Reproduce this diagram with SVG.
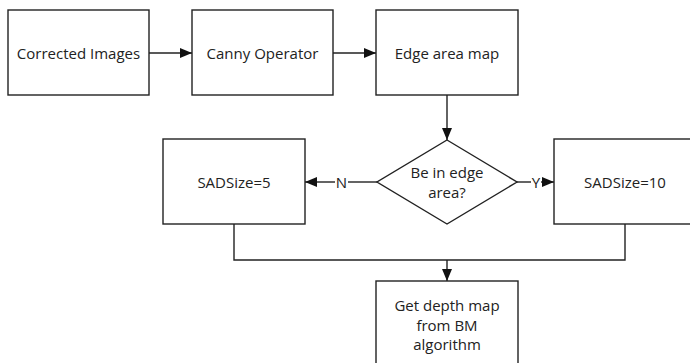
<svg xmlns="http://www.w3.org/2000/svg" width="690" height="363" viewBox="0 0 690 363">
<style>
.box{fill:#fff;stroke:#222;stroke-width:1.4}
.ln{fill:none;stroke:#222;stroke-width:1.4}
text{font-family:"Open Sans","Noto Sans","DejaVu Sans",sans-serif;font-size:15px;fill:#222;text-anchor:middle}
</style>
<defs>
<marker id="ah" markerWidth="12" markerHeight="10" refX="12" refY="5" orient="auto" markerUnits="userSpaceOnUse">
<path d="M0,0 L12,5 L0,10 Z" fill="#111"/>
</marker>
</defs>
<g id="connectors">
<line class="ln" x1="149" y1="53" x2="192" y2="53" marker-end="url(#ah)"/>
<line class="ln" x1="333" y1="53" x2="376" y2="53" marker-end="url(#ah)"/>
<line class="ln" x1="447" y1="95" x2="447" y2="140" marker-end="url(#ah)"/>
<line class="ln" x1="377" y1="182" x2="348" y2="182"/>
<line class="ln" x1="335" y1="182" x2="305" y2="182" marker-end="url(#ah)"/>
<text x="341.5" y="187.5">N</text>
<line class="ln" x1="517" y1="182" x2="531" y2="182"/>
<line class="ln" x1="541" y1="182" x2="554" y2="182" marker-end="url(#ah)"/>
<text x="536" y="187.5">Y</text>
<polyline class="ln" points="234,224 234,260 625,260 625,224"/>
<line class="ln" x1="447" y1="260" x2="447" y2="281" marker-end="url(#ah)"/>
</g>
<g id="n1"><rect class="box" x="8" y="10" width="141" height="85"/><text x="78.5" y="58.5">Corrected Images</text></g>
<g id="n2"><rect class="box" x="192" y="10" width="141" height="85"/><text x="262.5" y="58.5">Canny Operator</text></g>
<g id="n3"><rect class="box" x="376" y="10" width="142" height="85"/><text x="447" y="58.5">Edge area map</text></g>
<g id="n4"><polygon class="box" points="447,140 517,182 447,224 377,182"/><text x="447" y="178">Be in edge</text><text x="447" y="197.5">area?</text></g>
<g id="n5"><rect class="box" x="163" y="139" width="142" height="85"/><text x="234" y="187.5">SADSize=5</text></g>
<g id="n6"><rect class="box" x="554" y="139" width="142" height="85"/><text x="625" y="187.5">SADSize=10</text></g>
<g id="n7"><rect class="box" x="376" y="281" width="142" height="90"/><text x="447" y="311">Get depth map</text><text x="447" y="330.5">from BM</text><text x="447" y="350">algorithm</text></g>
</svg>
